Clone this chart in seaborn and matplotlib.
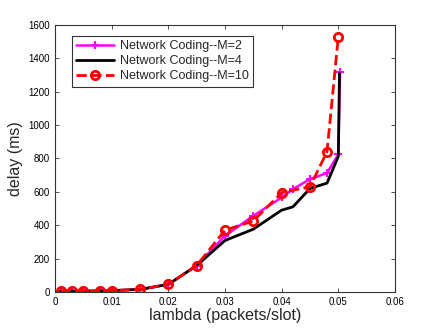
import pandas as pd
import matplotlib
matplotlib.use('Agg')
import matplotlib.pyplot as plt
import seaborn as sns

# données
lam_m2 = [0.001, 0.003, 0.005, 0.008, 0.01, 0.015, 0.02, 0.025, 0.03, 0.035, 0.04, 0.042, 0.045, 0.048, 0.05, 0.0503]
delay_m2 = [5, 5, 5, 6, 8, 15, 45, 158, 336, 456, 566, 616, 676, 712, 825, 1320]

lam_m4 = [0.001, 0.003, 0.005, 0.008, 0.01, 0.015, 0.02, 0.025, 0.03, 0.035, 0.04, 0.042, 0.045, 0.048, 0.05, 0.0502]
delay_m4 = [5, 5, 5, 6, 8, 15, 45, 158, 308, 376, 490, 510, 620, 652, 812, 1310]

lam_m10 = [0.001, 0.003, 0.005, 0.008, 0.01, 0.015, 0.02, 0.025, 0.03, 0.035, 0.04, 0.045, 0.048, 0.05]
delay_m10 = [5, 5, 5, 6, 8, 15, 45, 158, 370, 425, 595, 630, 840, 1530]

labels = ['Network Coding--M=2', 'Network Coding--M=4', 'Network Coding--M=10']

sns.set_style('ticks')
plt.rcParams['font.family'] = ['Liberation Sans', 'DejaVu Sans']
plt.rcParams['xtick.direction'] = 'in'
plt.rcParams['ytick.direction'] = 'in'

fig = plt.figure(figsize=(4.36, 3.28), dpi=100)
ax = fig.add_axes([0.126, 0.110, 0.780, 0.814])

sns.lineplot(x=lam_m2, y=delay_m2, ax=ax, color='#ff00ff', lw=1.8, marker='+',
             markersize=6, mec='#ff00ff', mew=1.5, label=labels[0])
sns.lineplot(x=lam_m4, y=delay_m4, ax=ax, color='black', lw=2, label=labels[1])
sns.lineplot(x=lam_m10, y=delay_m10, ax=ax, color='red', lw=2, ls='--', marker='o',
             markersize=6, mfc='none', mec='red', mew=2, label=labels[2])

# axes et étiquettes
ax.set_xlim(0, 0.06)
ax.set_ylim(0, 1600)
ax.set_xticks([0, 0.01, 0.02, 0.03, 0.04, 0.05, 0.06])
ax.set_xticklabels(['0', '0.01', '0.02', '0.03', '0.04', '0.05', '0.06'])
ax.set_yticks(range(0, 1601, 200))
ax.tick_params(labelsize=7, top=True, right=True, length=3, width=0.6, colors='#333333', labelcolor='black')
for s in ax.spines.values():
    s.set_linewidth(0.8)
    s.set_color('#333333')
ax.set_xlabel('lambda (packets/slot)', fontsize=11.5, labelpad=1)
ax.set_ylabel('delay (ms)', fontsize=11.5, labelpad=4)

leg = ax.legend(loc='upper left', bbox_to_anchor=(0.05, 0.96), fontsize=9,
                frameon=True, fancybox=False, edgecolor='black', handlelength=3,
                borderpad=0.35, labelspacing=0.25, handletextpad=0.5, borderaxespad=0)
leg.get_frame().set_linewidth(0.8)

plt.savefig('out.png', dpi=100)
